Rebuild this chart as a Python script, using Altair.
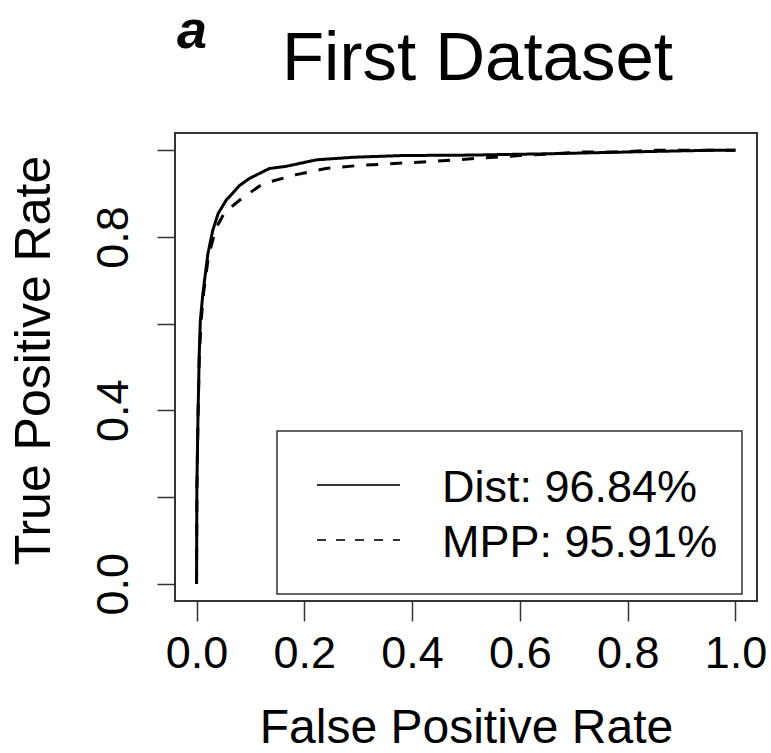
import altair as alt
import pandas as pd

# ---- data ----
series_labels = ["Dist: 96.84%", "MPP: 95.91%"]

dist_fpr = [0.0, 0.0006, 0.0025, 0.005, 0.007, 0.0117, 0.021, 0.030, 0.040, 0.055,
            0.080, 0.098, 0.135, 0.166, 0.222, 0.29, 0.383, 0.506, 0.65, 0.83, 0.95, 1.0]
dist_tpr = [0.0, 0.222, 0.376, 0.53, 0.607, 0.669, 0.761, 0.815, 0.854, 0.885,
            0.919, 0.935, 0.958, 0.963, 0.978, 0.984, 0.988, 0.989, 0.992, 0.997, 1.0, 1.0]

mpp_fpr = [0.0, 0.0006, 0.0025, 0.005, 0.008, 0.013, 0.022, 0.036, 0.05, 0.07,
           0.083, 0.123, 0.185, 0.24, 0.30, 0.358, 0.42, 0.48, 0.537, 0.6,
           0.66, 0.716, 0.78, 0.84, 1.0]
mpp_tpr = [0.0, 0.21, 0.37, 0.52, 0.6, 0.67, 0.755, 0.82, 0.852, 0.875,
           0.888, 0.923, 0.944, 0.958, 0.965, 0.969, 0.973, 0.978, 0.983, 0.988,
           0.992, 0.996, 0.996, 1.0, 1.0]

tick_values = [0.0, 0.2, 0.4, 0.6, 0.8, 1.0]
y_label_values = [0.0, 0.4, 0.8]
title_text = "First Dataset"
panel_tag = "a"
x_title = "False Positive Rate"
y_title = "True Positive Rate"

rows = []
for i, (f, t) in enumerate(zip(dist_fpr, dist_tpr)):
    rows.append({"fpr": f, "tpr": t, "series": series_labels[0], "i": i})
for i, (f, t) in enumerate(zip(mpp_fpr, mpp_tpr)):
    rows.append({"fpr": f, "tpr": t, "series": series_labels[1], "i": i})
df = pd.DataFrame(rows)

FONT = "Liberation Sans"
W, H = 582, 468
PAD_L, PAD_T = 175, 133

y_expr = "indexof([0, 0.4, 0.8], datum.value) >= 0 ? format(datum.value, '.1f') : ''"

lines = alt.Chart(df).mark_line(color="black", strokeWidth=3, clip=True).encode(
    x=alt.X("fpr:Q",
            scale=alt.Scale(domain=[-0.04, 1.04], nice=False, zero=False),
            axis=alt.Axis(values=tick_values, format=".1f", title=x_title,
                          grid=False, domain=False, tickSize=20, tickWidth=1.5,
                          tickColor="#333", labelFontSize=45, labelFont=FONT,
                          labelColor="black", labelPadding=10, labelOverlap=False,
                          labelFlush=False,
                          titleFont=FONT, titleFontSize=48, titleFontWeight="normal",
                          titleColor="black", titleX=291, titleY=141,
                          titleAlign="center", titleBaseline="alphabetic")),
    y=alt.Y("tpr:Q",
            scale=alt.Scale(domain=[-0.04, 1.04], nice=False, zero=False),
            axis=alt.Axis(values=tick_values, labelExpr=y_expr, title=y_title,
                          grid=False, domain=False, tickSize=18, tickWidth=1.5,
                          tickColor="#333", labelFontSize=45, labelFont=FONT,
                          labelColor="black", labelAngle=270, labelAlign="center",
                          labelBaseline="alphabetic", labelPadding=30,
                          labelOverlap=False, labelFlush=False,
                          titleFont=FONT, titleFontSize=50, titleFontWeight="normal",
                          titleColor="black", titleAngle=270, titleX=-126, titleY=227,
                          titleAlign="center", titleBaseline="alphabetic")),
    strokeDash=alt.StrokeDash("series:N",
                              scale=alt.Scale(domain=series_labels, range=[[1, 0], [12, 12]]),
                              legend=None),
    order="i:Q",
)

one = pd.DataFrame({"k": [0]})

# legend box (drawn like R's legend(): white box with a dark border)
legend_box = alt.Chart(one).mark_rect(fill="white", stroke="#333", strokeWidth=1.5).encode(
    x=alt.value(102), x2=alt.value(567), y=alt.value(298), y2=alt.value(461))

legend_layers = [legend_box]
legend_dashes = [[1, 0], [9, 10]]
for k, lab in enumerate(series_labels):
    yy = 352 + 55 * k
    legend_layers.append(
        alt.Chart(one).mark_rule(color="#333", strokeWidth=2, strokeDash=legend_dashes[k]).encode(
            x=alt.value(142), x2=alt.value(225), y=alt.value(yy)))
    legend_layers.append(
        alt.Chart(pd.DataFrame({"t": [lab]})).mark_text(
            font=FONT, fontSize=45, align="left", baseline="alphabetic", color="black"
        ).encode(x=alt.value(267), y=alt.value(yy + 17), text="t:N"))

tag = alt.Chart(pd.DataFrame({"t": [panel_tag]})).mark_text(
    font=FONT, fontSize=54, fontWeight="bold", fontStyle="italic",
    align="left", baseline="alphabetic", color="black"
).encode(x=alt.value(2), y=alt.value(-85), text="t:N")

title = alt.Chart(pd.DataFrame({"t": [title_text]})).mark_text(
    font=FONT, fontSize=69, align="center", baseline="alphabetic", color="black"
).encode(x=alt.value(302.5), y=alt.value(-53), text="t:N")

chart = alt.layer(lines, *legend_layers, tag, title).properties(
    width=W, height=H,
    autosize=alt.AutoSizeParams(type="none"),
    padding={"left": PAD_L, "top": PAD_T, "right": 771 - PAD_L - W, "bottom": 753 - PAD_T - H},
    background="white",
).configure_view(stroke="#333", strokeWidth=2)

chart.save("out.html", embed_options={"renderer": "svg", "actions": False})
